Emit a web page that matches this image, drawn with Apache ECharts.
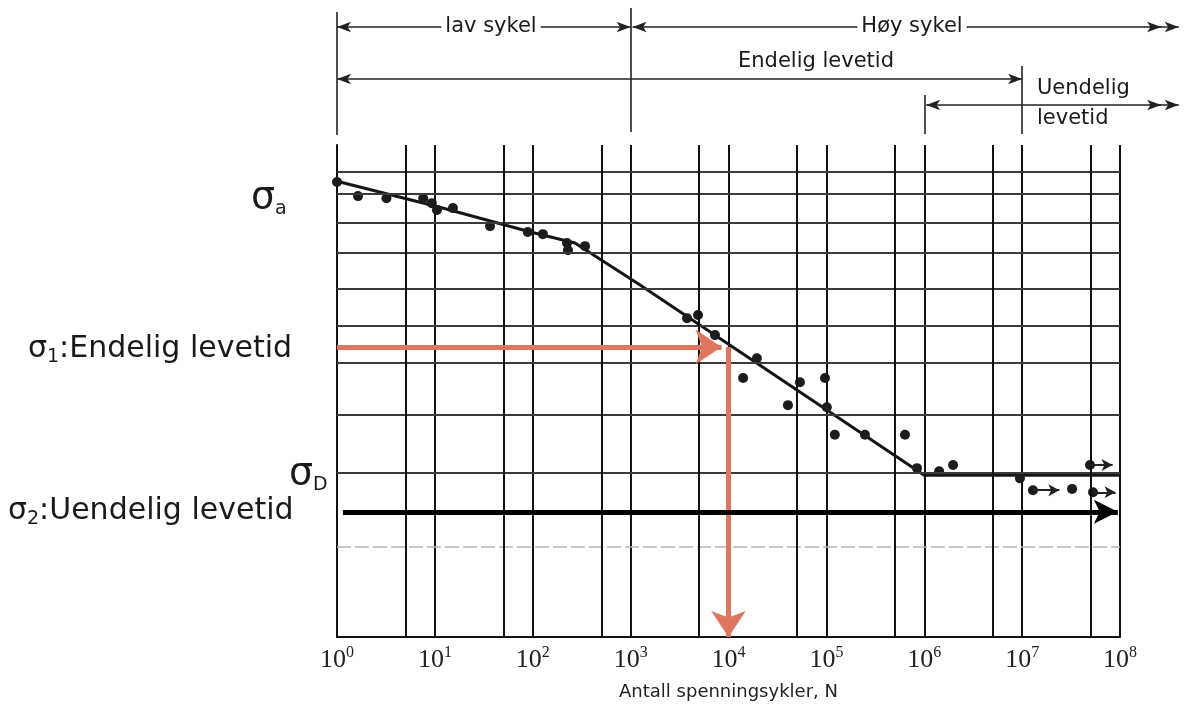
<!DOCTYPE html>
<html><head><meta charset="utf-8">
<script src="https://cdn.jsdelivr.net/npm/echarts@6/dist/echarts.min.js"></script>
<style>html,body{margin:0;padding:0;background:#fff}#c{width:1187px;height:707px}</style>
</head><body><div id="c"></div>
<script>
// ---- data (cycles N, relative stress level S) ----
const decadeExponents = [0, 1, 2, 3, 4, 5, 6, 7, 8];
const minorCycles = [5, 50, 500, 5e3, 5e4, 5e5, 5e6, 5e7];
const stressGridLevels = [4, 5, 6, 7, 8, 9, 10, 11, 12, 13];
const stressMin = 3, stressMax = 14;

const curveCycles = [1, 11, 95, 270, 1250, 1e6, 1e8];
const curveStress = [12.5, 11.53, 10.66, 10.30, 9.03, 4.98, 4.98];

const pointCycles = [1, 1.64, 3.2, 7.6, 9.3, 10.5, 15.3, 36.6, 89, 127, 224, 229, 342,
  3770, 4880, 7280, 19500, 14100, 53700, 40500, 96800, 101000, 122000, 248000, 636000,
  843000, 1.42e6, 1.97e6, 9.5e6, 3.24e7];
const pointStress = [12.47, 11.93, 11.85, 11.85, 11.67, 11.42, 11.49, 10.86, 10.66, 10.59, 10.30, 10.07, 10.20,
  8.14, 8.22, 7.72, 7.18, 6.75, 6.66, 6.20, 6.75, 6.16, 5.65, 5.65, 5.65,
  5.09, 5.04, 5.14, 4.93, 4.77];

const runoutCycles = [1.29e7, 4.94e7, 5.3e7];
const runoutStress = [4.75, 5.14, 4.72];
const runoutArrowTo = [2.4e7, 8.4e7, 9.0e7];

const finiteLevel = 7.44;      // sigma_1
const finiteCycles = 1e4;      // N at sigma_1
const finiteArrowTip = 8500;   // tip of horizontal red arrow
const infiniteLevel = 4.44;    // sigma_2
const infiniteFrom = 1.15, infiniteTo = 9.5e7;

const tickLabels = decadeExponents.map(e => '10{s|' + e + '}');

// ---- layout ----
const GL = 337, GR = 67, GT = 145, GB = 70, W = 1187;
const decadePx = (W - GL - GR) / 8;
const topXMax = (W - GL) / decadePx;
const L = Math.log10;

const chart = echarts.init(document.getElementById('c'));

const gridStyle = {color: '#3a3a3a', width: 2, type: 'solid'};
const gridLines = stressGridLevels.map(s => ({
  yAxis: L(s),
  lineStyle: s === 4 ? {color: '#b5b5b5', width: 1.6, type: [14, 4]} : gridStyle
}));
gridLines.push({yAxis: L(stressMax), lineStyle: {color: '#111', width: 2, type: 'solid'}});
minorCycles.forEach(n => gridLines.push({xAxis: L(n), lineStyle: {color: '#111', width: 2, type: 'solid'}}));

function seg(x1, y1, x2, y2, s1, s2, style, size) {
  return [
    {coord: [x1, y1], symbol: s1, symbolSize: size, lineStyle: style},
    {coord: [x2, y2], symbol: s2, symbolSize: size}
  ];
}

const red = '#E2755D';
const arrowLines = [
  seg(0, L(finiteLevel), L(finiteArrowTip), L(finiteLevel), 'none', 'arrow', {color: red, width: 5, type: 'solid'}, [26, 26]),
  seg(L(finiteCycles), L(finiteLevel), L(finiteCycles), L(stressMin), 'none', 'arrow', {color: red, width: 5, type: 'solid'}, [26, 26]),
  seg(L(infiniteFrom), L(infiniteLevel), L(infiniteTo), L(infiniteLevel), 'none', 'arrow', {color: '#000', width: 5, type: 'solid'}, [18, 24])
];

const runoutLines = runoutCycles.map((n, i) =>
  seg(L(n), L(runoutStress[i]), L(runoutArrowTo[i]), L(runoutStress[i]), 'none', 'arrow', {color: '#222', width: 2, type: 'solid'}, [9, 11]));

// top annotation (x in decades, y in px rows of the top band)
const thin = {color: '#222', width: 1.6, type: 'solid'};
const topLines = [
  seg(0, 12, 0, 135, 'none', 'none', thin, 1),
  seg(3, 8, 3, 132, 'none', 'none', thin, 1),
  seg(6, 95, 6, 134, 'none', 'none', thin, 1),
  seg(7, 66, 7, 134, 'none', 'none', thin, 1),
  seg(0, 27, 3, 27, 'arrow', 'arrow', thin, [8, 14]),
  seg(3.02, 27, 8.6, 27, 'arrow', 'arrow', thin, [8, 14]),
  seg(8.3, 27, 8.42, 27, 'none', 'arrow', thin, [8, 14]),
  seg(0, 79, 7, 79, 'arrow', 'arrow', thin, [8, 14]),
  seg(6.02, 105, 8.6, 105, 'arrow', 'arrow', thin, [8, 14]),
  seg(8.3, 105, 8.42, 105, 'none', 'arrow', thin, [8, 14])
];

const sans = 'DejaVu Sans';
const ink = '#1a1a1a';
function txt(x, y, text, rich, align) {
  return {type: 'text', x: x, y: y, z: 100,
    style: {text: text, rich: rich, align: align || 'left', verticalAlign: 'middle', fill: ink,
      font: '21px ' + sans}};
}
const bigRich = {
  b: {fontSize: 30, fontFamily: sans, color: ink},
  s: {fontSize: 19, fontFamily: sans, color: ink, padding: [17, 0, 0, 0]},
  g: {fontSize: 38, fontFamily: sans, color: ink},
  gs: {fontSize: 19, fontFamily: sans, color: ink, padding: [22, 0, 0, 0]}
};
const topRich = {t: {fontSize: 21, fontFamily: sans, color: ink, backgroundColor: '#fff', padding: [0, 4]}};

const option = {
  animation: false,
  backgroundColor: '#fff',
  grid: [
    {left: GL, right: GR, top: GT, bottom: GB, containLabel: false, outerBoundsMode: 'none'},
    {left: GL, right: 0, top: 0, height: 140, containLabel: false, outerBoundsMode: 'none'}
  ],
  xAxis: [
    {type: 'value', gridIndex: 0, min: 0, max: 8, interval: 1,
      axisLine: {show: true, lineStyle: {color: '#111', width: 2}},
      axisTick: {show: false},
      splitLine: {show: true, lineStyle: {color: '#111', width: 2}},
      axisLabel: {margin: 8, color: '#222', fontFamily: 'Liberation Serif', fontSize: 26,
        formatter: v => tickLabels[Math.round(v)],
        rich: {s: {fontFamily: 'Liberation Serif', fontSize: 16, color: '#222', padding: [0, 0, 14, 0]}}},
      name: 'Antall spenningsykler, N', nameLocation: 'middle', nameGap: 46,
      nameTextStyle: {fontFamily: sans, fontSize: 18, color: '#222'}},
    {type: 'value', gridIndex: 1, min: 0, max: topXMax, show: false}
  ],
  yAxis: [
    {type: 'value', gridIndex: 0, min: L(stressMin), max: L(stressMax),
      axisLine: {show: true, lineStyle: {color: '#111', width: 2}},
      axisTick: {show: false}, axisLabel: {show: false}, splitLine: {show: false}},
    {type: 'value', gridIndex: 1, min: 0, max: 140, inverse: true, show: false}
  ],
  series: [
    {type: 'line', data: [], z: 1, silent: true,
      markLine: {silent: true, symbol: ['none', 'none'], label: {show: false}, animation: false,
        lineStyle: {type: 'solid'}, data: gridLines}},
    {type: 'line', z: 3, symbol: 'none', silent: true,
      lineStyle: {color: '#151515', width: 3},
      data: curveCycles.map((n, i) => [L(n), L(curveStress[i])])},
    {type: 'scatter', z: 4, symbolSize: 10, silent: true, itemStyle: {color: '#1c1c1c', opacity: 1},
      data: pointCycles.map((n, i) => [L(n), L(pointStress[i])])},
    {type: 'scatter', z: 4, symbolSize: 10, silent: true, itemStyle: {color: '#1c1c1c', opacity: 1},
      data: runoutCycles.map((n, i) => [L(n), L(runoutStress[i])]),
      markLine: {silent: true, label: {show: false}, animation: false, lineStyle: {type: 'solid'}, data: runoutLines}},
    {type: 'line', data: [], z: 6, silent: true,
      markLine: {silent: true, label: {show: false}, animation: false, lineStyle: {type: 'solid'}, data: arrowLines}},
    {type: 'line', data: [], xAxisIndex: 1, yAxisIndex: 1, z: 2, silent: true,
      markLine: {silent: true, label: {show: false}, animation: false, lineStyle: {type: 'solid'}, data: topLines}}
  ],
  graphic: [
    txt(251, 198, '{g|σ}{gs|a}', bigRich),
    txt(28, 349, '{b|σ}{s|1}{b|:Endelig levetid}', bigRich),
    txt(289, 474, '{g|σ}{gs|D}', bigRich),
    txt(8, 511, '{b|σ}{s|2}{b|:Uendelig levetid}', bigRich),
    txt(491, 27, '{t|lav sykel}', topRich, 'center'),
    txt(912, 27, '{t|Høy sykel}', topRich, 'center'),
    txt(816, 62, '{t|Endelig levetid}', {t: {fontSize: 21, fontFamily: sans, color: ink}}, 'center'),
    txt(1033, 89, '{t|Uendelig}', topRich, 'left'),
    txt(1033, 119, '{t|levetid}', topRich, 'left')
  ]
};
chart.setOption(option);
</script>
</body></html>
